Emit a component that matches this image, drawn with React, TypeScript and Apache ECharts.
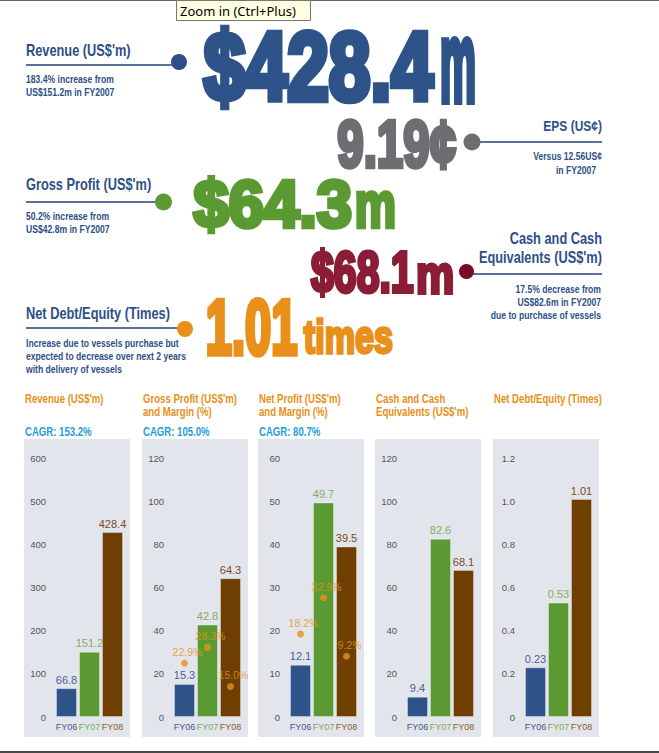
import React, { useEffect, useRef } from "react";
import * as echarts from "echarts";

// ---------- data ----------
const categories = ["FY06", "FY07", "FY08"];
const revenue = [66.8, 151.2, 428.4];
const grossProfit = [15.3, 42.8, 64.3];
const grossMargin = [22.9, 28.3, 15.0];
const netProfit = [12.1, 49.7, 39.5];
const netMargin = [18.2, 32.9, 9.2];
const cashEquivalents = [9.4, 82.6, 68.1];
const netDebtEquity = [0.23, 0.53, 1.01];

const axisMax = [600, 120, 60, 120, 1.2];
const axisInterval = [100, 20, 10, 20, 0.2];

const panelTitles = [
  ["Revenue (US$'m)"],
  ["Gross Profit (US$'m)", "and Margin (%)"],
  ["Net Profit (US$'m)", "and Margin (%)"],
  ["Cash and Cash", "Equivalents (US$'m)"],
  ["Net Debt/Equity (Times)"],
];
const cagrLabels = ["CAGR: 153.2%", "CAGR: 105.0%", "CAGR: 80.7%", "", ""];

const headline = {
  revenue: { label: "Revenue (US$'m)", big: "$428.4", unit: "m", notes: ["183.4% increase from", "US$151.2m in FY2007"] },
  eps: { label: "EPS (US¢)", big: "9.19¢", notes: ["Versus 12.56US¢", "in FY2007"] },
  gross: { label: "Gross Profit (US$'m)", big: "$64.3", unit: "m", notes: ["50.2% increase from", "US$42.8m in FY2007"] },
  cash: { label: ["Cash and Cash", "Equivalents (US$'m)"], big: "$68.1", unit: "m", notes: ["17.5% decrease from", "US$82.6m in FY2007", "due to purchase of vessels"] },
  nde: { label: "Net Debt/Equity (Times)", big: "1.01", unit: "times", notes: ["Increase due to vessels purchase but", "expected to decrease over next 2 years", "with delivery of vessels"] },
};

// ---------- style ----------
const SANS = "'Liberation Sans', Arial, sans-serif";
const NARROW_SCALE = 0.8;
const NOTE_SCALE = 0.86;
const NAVY = "#2d4f86";
const BLUE = "#2d5388";
const GREEN = "#5b9a32";
const BROWN = "#6e3f00";
const ORANGE = "#e8901a";
const barColors = [BLUE, GREEN, BROWN];
const labelColors = ["#4a6098", "#7fb05c", "#7b4a1e"];
const xLabelColors = ["#3e5792", "#7aaa55", "#8a5a2a"];

const PANEL_LEFT = [24, 142, 258, 375, 493];
const PANEL_W = 106;

function measure(text: string, font: string) {
  const ctx = document.createElement("canvas").getContext("2d")!;
  ctx.font = font;
  ctx.textBaseline = "middle";
  ctx.textAlign = "left";
  return ctx.measureText(text);
}

function fitText(text: string, refText: string, box: { l: number; r: number; t: number; b: number }, color: string) {
  const font = `bold 100px ${SANS}`;
  const lw = 7;
  const m = measure(text, font);
  const rm = measure(refText, font);
  const inkW = m.actualBoundingBoxLeft + m.actualBoundingBoxRight + lw;
  const inkH = rm.actualBoundingBoxAscent + rm.actualBoundingBoxDescent + lw;
  const sx = (box.r - box.l) / inkW;
  const sy = (box.b - box.t) / inkH;
  return {
    type: "text",
    x: box.l + (m.actualBoundingBoxLeft + lw / 2) * sx,
    y: box.t + (rm.actualBoundingBoxAscent + lw / 2) * sy,
    scaleX: sx,
    scaleY: sy,
    z: 10,
    style: {
      text,
      fill: color,
      stroke: color,
      lineWidth: lw,
      lineJoin: "miter",
      fontSize: 100,
      fontWeight: "bold",
      fontFamily: SANS,
      align: "left",
      verticalAlign: "middle",
    },
  };
}

function txt(text: string, x: number, y: number, size: number, color: string, opts: any = {}) {
  return {
    type: "text",
    x,
    y,
    z: 10,
    scaleX: opts.scaleX ?? NARROW_SCALE,
    style: {
      text,
      fill: color,
      fontSize: size,
      fontWeight: opts.weight ?? "bold",
      fontFamily: SANS,
      align: opts.align ?? "left",
      verticalAlign: "middle",
    },
  };
}

function note(text: string, x: number, y: number, align = "left") {
  return txt(text, x, y, 10, NAVY, { align, scaleX: NOTE_SCALE });
}

function hline(x1: number, x2: number, y: number, color: string, w = 2) {
  return { type: "line", z: 5, shape: { x1, y1: y, x2, y2: y }, style: { stroke: color, lineWidth: w } };
}

function dot(cx: number, cy: number, r: number, color: string) {
  return { type: "circle", z: 6, shape: { cx, cy, r }, style: { fill: color } };
}

export default function App() {
  const ref = useRef<HTMLDivElement>(null);

  useEffect(() => {
    if (!ref.current) return;
    const chart = echarts.init(ref.current, null, { renderer: "svg" });

    const graphics: any[] = [];
    // frame lines
    graphics.push(hline(0, 659, 0.5, "#666", 1));
    graphics.push(hline(0, 659, 752, "#4a4a4a", 2));

    // Revenue headline
    graphics.push(txt(headline.revenue.label, 26, 50, 16, NAVY));
    graphics.push(hline(26, 178, 65, "#5c6f9c", 2));
    graphics.push(dot(179, 62, 8, NAVY));
    graphics.push(note(headline.revenue.notes[0], 26, 80));
    graphics.push(note(headline.revenue.notes[1], 26, 93));
    graphics.push(fitText(headline.revenue.big, "0428", { l: 202, r: 436, t: 22, b: 97 }, BLUE));
    graphics.push(fitText(headline.revenue.unit, "m", { l: 441, r: 475, t: 28, b: 97 }, BLUE));

    // EPS
    graphics.push(fitText(headline.eps.big, "919", { l: 337, r: 457, t: 113, b: 165 }, "#6d6e71"));
    graphics.push(hline(472, 602, 142, "#5c6f9c", 2));
    graphics.push(dot(472, 142, 8.5, "#6d6e71"));
    graphics.push(txt(headline.eps.label, 602, 126, 15, NAVY, { align: "right" }));
    graphics.push(note(headline.eps.notes[0], 602, 157, "right"));
    graphics.push(note(headline.eps.notes[1], 596, 171, "right"));

    // Gross profit
    graphics.push(txt(headline.gross.label, 26, 184, 16, NAVY));
    graphics.push(hline(26, 163, 202, "#5c6f9c", 2));
    graphics.push(dot(163.5, 202, 8.5, GREEN));
    graphics.push(note(headline.gross.notes[0], 26, 217));
    graphics.push(note(headline.gross.notes[1], 26, 230));
    graphics.push(fitText(headline.gross.big, "064", { l: 192, r: 352, t: 173, b: 225 }, GREEN));
    graphics.push(fitText(headline.gross.unit, "m", { l: 356, r: 395, t: 186, b: 225 }, GREEN));

    // Cash
    graphics.push(fitText(headline.cash.big, "068", { l: 310, r: 414, t: 246, b: 291 }, "#8b1d36"));
    graphics.push(fitText(headline.cash.unit, "m", { l: 417, r: 453, t: 258, b: 291 }, "#8b1d36"));
    graphics.push(txt(headline.cash.label[0], 602, 238, 16, NAVY, { align: "right" }));
    graphics.push(txt(headline.cash.label[1], 602, 257, 16, NAVY, { align: "right" }));
    graphics.push(hline(467, 602, 274, "#5c6f9c", 2));
    graphics.push(dot(466.5, 271.5, 7.5, "#7a0a28"));
    headline.cash.notes.forEach((n, i) => graphics.push(note(n, 601, 290 + i * 13, "right")));

    // Net debt / equity
    graphics.push(txt(headline.nde.label, 26, 313, 16, NAVY));
    graphics.push(hline(26, 185, 328, "#5c6f9c", 2));
    graphics.push(dot(185, 329, 8, ORANGE));
    headline.nde.notes.forEach((n, i) => graphics.push(note(n, 26, 344 + i * 13)));
    graphics.push(fitText(headline.nde.big, "101", { l: 207, r: 298, t: 292, b: 352 }, ORANGE));
    graphics.push(fitText(headline.nde.unit, "mes", { l: 303, r: 393, t: 323, b: 352 }, ORANGE));

    // panels
    PANEL_LEFT.forEach((l, i) => {
      graphics.push({ type: "rect", z: -10, shape: { x: l, y: 439, width: PANEL_W, height: 298 }, style: { fill: "#e3e5ec" } });
      panelTitles[i].forEach((t, j) => graphics.push(txt(t, l + 1, 399 + j * 13, 12, ORANGE)));
      if (cagrLabels[i]) graphics.push(txt(cagrLabels[i], l + 1, 432, 12, "#1ea0d8"));
    });

    // tooltip artifact
    graphics.push({ type: "rect", z: 20, shape: { x: 176.5, y: 0.5, width: 134, height: 20 }, style: { fill: "#ffffe1", stroke: "#767676", lineWidth: 1 } });
    graphics.push({ type: "text", z: 21, x: 180, y: 11, style: { text: "Zoom in (Ctrl+Plus)", fill: "#000", fontSize: 13, fontFamily: "'Noto Sans', 'Liberation Sans', sans-serif", verticalAlign: "middle" } });

    const series = [revenue, grossProfit, netProfit, cashEquivalents, netDebtEquity];
    const grid = PANEL_LEFT.map((l) => ({ left: l + 31, top: 458, width: 69, height: 259 }));

    const xAxis = PANEL_LEFT.map((_, i) => ({
      type: "category",
      gridIndex: i,
      data: categories,
      axisLine: { show: false },
      axisTick: { show: false },
      axisLabel: {
        interval: 0,
        margin: 5,
        formatter: (v: string, idx: number) => `{c${idx}|${v}}`,
        rich: {
          c0: { color: xLabelColors[0], fontSize: 9, fontFamily: SANS },
          c1: { color: xLabelColors[1], fontSize: 9, fontFamily: SANS },
          c2: { color: xLabelColors[2], fontSize: 9, fontFamily: SANS },
        },
      },
    }));

    const yAxis: any[] = PANEL_LEFT.map((_, i) => ({
      type: "value",
      gridIndex: i,
      min: 0,
      max: axisMax[i],
      interval: axisInterval[i],
      splitLine: { show: false },
      axisLine: { show: false },
      axisTick: { show: false },
      axisLabel: {
        margin: 9,
        color: "#555",
        fontSize: 9.5,
        fontFamily: SANS,
        formatter: (v: number) => (i === 4 ? (v === 0 ? "0" : v.toFixed(1)) : String(v)),
      },
    }));
    // hidden margin axes for gross / net profit panels
    yAxis.push({ type: "value", gridIndex: 1, show: false, min: 4.6, max: 92.8, splitLine: { show: false } });
    yAxis.push({ type: "value", gridIndex: 2, show: false, min: -15.4, max: 89.5, splitLine: { show: false } });

    const seriesList: any[] = series.map((vals, i) => ({
      type: "bar",
      xAxisIndex: i,
      yAxisIndex: i,
      barWidth: 21,
      data: vals.map((v, k) => ({
        value: v,
        itemStyle: { color: barColors[k], borderColor: "rgba(255,255,255,0.35)", borderWidth: 1 },
        label: { color: labelColors[k] },
      })),
      label: {
        show: true,
        position: "top",
        distance: 3,
        fontSize: 11,
        fontFamily: SANS,
        formatter: (p: any) => String(p.value),
      },
    }));

    [grossMargin, netMargin].forEach((m, j) => {
      seriesList.push({
        type: "scatter",
        xAxisIndex: j + 1,
        yAxisIndex: 5 + j,
        symbolSize: 7,
        itemStyle: { color: ORANGE },
        z: 5,
        data: m,
        label: {
          show: true,
          position: "top",
          distance: 2,
          offset: [3, 0],
          color: ORANGE,
          fontSize: 10.5,
          fontFamily: SANS,
          formatter: (p: any) => `${Number(p.value).toFixed(1)}%`,
        },
      });
    });

    chart.setOption({
      animation: false,
      backgroundColor: "#ffffff",
      grid,
      xAxis,
      yAxis,
      series: seriesList,
      graphic: { elements: graphics },
    });

    return () => chart.dispose();
  }, []);

  return <div ref={ref} style={{ position: "fixed", left: 0, top: 0, width: 659, height: 753 }} />;
}
